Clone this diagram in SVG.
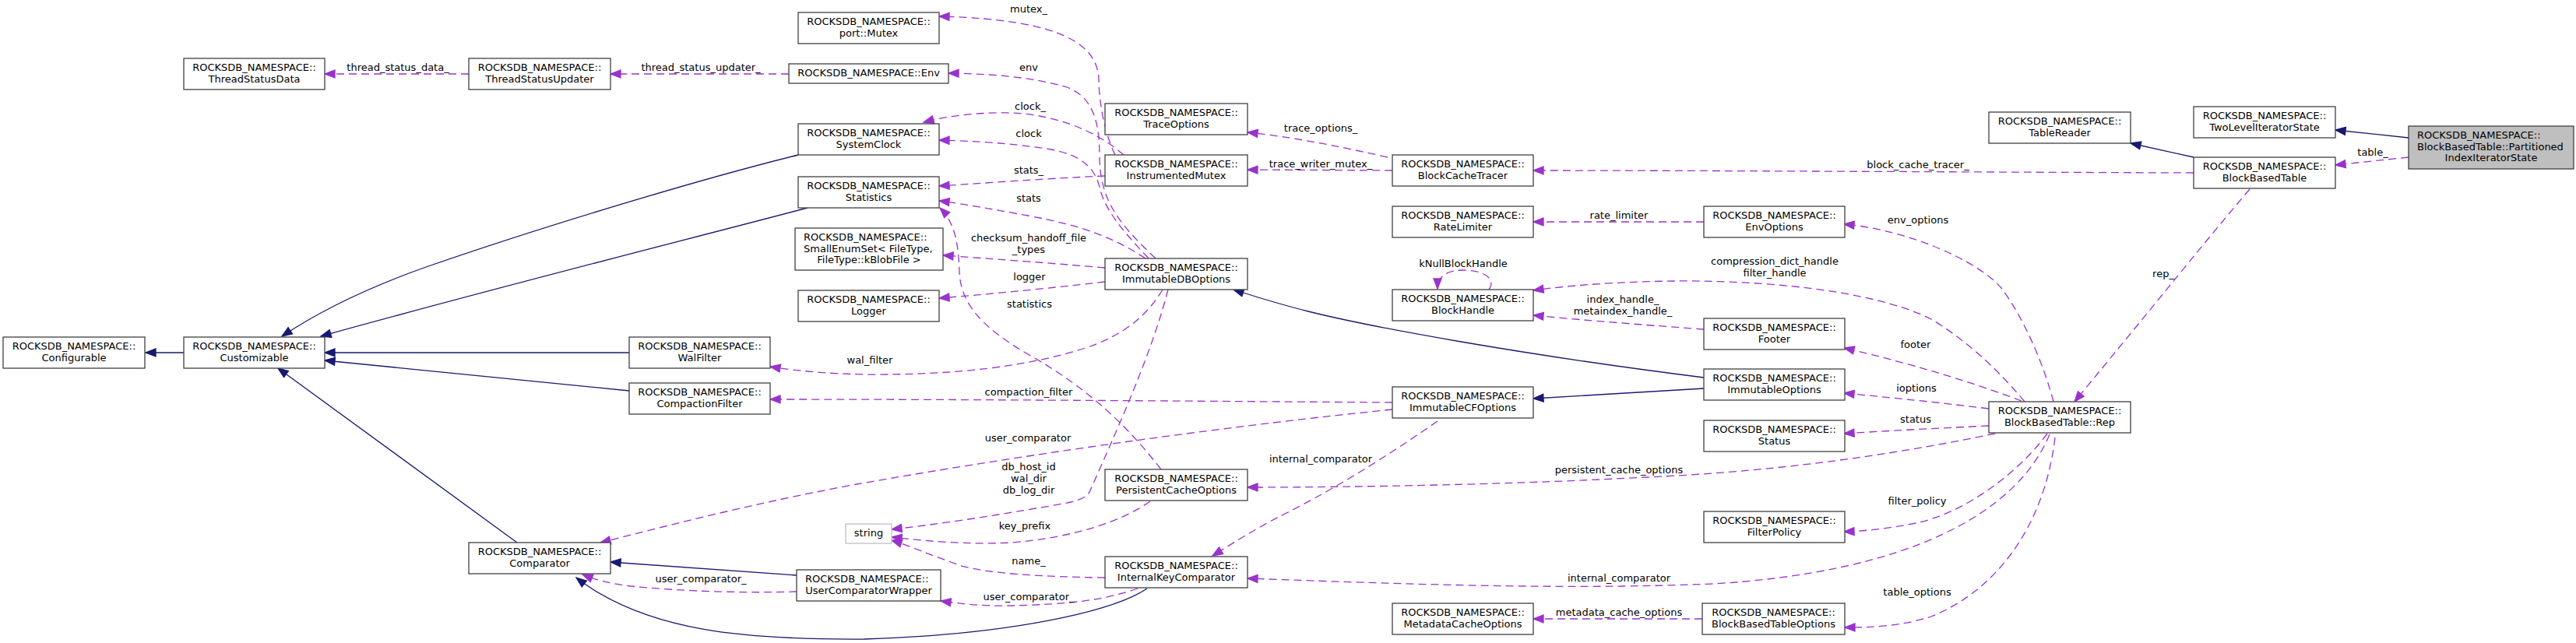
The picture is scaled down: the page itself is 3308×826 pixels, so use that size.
<svg xmlns="http://www.w3.org/2000/svg" width="3308" height="826" viewBox="0 0 3308 826">
<style>
.node rect{fill:#fff;stroke:#404040;stroke-width:1.3}
.node text,.lbl{font-family:"DejaVu Sans","Liberation Sans",sans-serif;font-size:13px;fill:#000;text-anchor:middle}
.node text.l{text-anchor:start}
.inh{fill:none;stroke:#191970;stroke-width:1.3;marker-end:url(#an)}
.use{fill:none;stroke:#9a32cd;stroke-width:1.3;stroke-dasharray:10,6;marker-end:url(#ap)}
</style>
<defs>
<marker id="an" markerUnits="userSpaceOnUse" markerWidth="14" markerHeight="10" refX="13" refY="5" orient="auto" overflow="visible"><path d="M0,0 L13,5 L0,10 z" fill="#191970" stroke="#191970" stroke-width="1.3"/></marker>
<marker id="ap" markerUnits="userSpaceOnUse" markerWidth="14" markerHeight="10" refX="13" refY="5" orient="auto" overflow="visible"><path d="M0,0 L13,5 L0,10 z" fill="#9a32cd" stroke="#9a32cd" stroke-width="1.3"/></marker>
</defs>
<rect width="3308" height="826" fill="#fff"/>
<g id="connectors">
<path class="inh" d="M236,453 L187,453"/>
<path class="inh" d="M1025,199 C900,230 700,290 550,342 C470,370 410,400 362,432"/>
<path class="inh" d="M1037,267 C850,316 620,374 412,432"/>
<path class="inh" d="M808,453 L417,453"/>
<path class="inh" d="M808,502 L417,463"/>
<path class="inh" d="M664,697 L357,473"/>
<path class="inh" d="M1023,739 L784,722"/>
<path class="inh" d="M1473,756 C1430,785 1300,815 1110,821 C960,822 830,812 740,742"/>
<path class="inh" d="M2188,485 C1950,455 1760,420 1680,400 C1640,390 1615,382 1584,372"/>
<path class="inh" d="M2188,499 L1969,512"/>
<path class="inh" d="M2817,202 L2736,184"/>
<path class="inh" d="M3093,177 L2999,167"/>

<path class="use" d="M602,95 L417,95"/>
<path class="use" d="M1013,95 L784,95"/>
<path class="use" d="M1432,199 C1418,170 1411,130 1411,100 C1408,60 1370,25 1206,21"/>
<path class="use" d="M1484,332 C1440,290 1412,260 1412,200 C1412,160 1405,125 1370,112 C1330,100 1280,95 1218,94"/>
<path class="use" d="M1475,332 C1445,300 1418,270 1412,240 C1405,215 1390,200 1350,192 C1300,184 1250,181 1206,180"/>
<path class="use" d="M1471,332 C1430,305 1390,290 1320,277 C1280,270 1240,262 1206,258"/>
<path class="use" d="M1443,199 C1410,170 1360,148 1300,145 C1260,144 1220,148 1186,157"/>
<path class="use" d="M1419,226 C1350,229 1280,234 1206,239"/>
<path class="use" d="M1419,344 C1350,338 1280,333 1211,328"/>
<path class="use" d="M1419,362 C1350,370 1280,377 1206,383"/>
<path class="use" d="M1491,603 C1450,550 1400,500 1320,455 C1260,420 1234,390 1232,350 C1231,310 1225,285 1207,267"/>
<path class="use" d="M1493,372 C1470,410 1440,430 1400,445 C1320,472 1220,482 1110,481 C1060,480 1020,476 989,471"/>
<path class="use" d="M1500,372 C1480,450 1440,540 1400,630 C1395,642 1380,645 1330,653 C1260,665 1200,674 1145,680"/>
<path class="use" d="M1477,644 C1440,670 1380,690 1300,697 C1240,700 1190,695 1145,690"/>
<path class="use" d="M1419,742 C1340,741 1270,737 1235,727 C1200,715 1170,702 1145,694"/>
<path class="use" d="M1461,756 C1420,770 1380,776 1300,778 C1260,779 1230,775 1208,772"/>
<path class="use" d="M1023,760 C960,762 880,760 810,753 C785,750 765,745 748,738"/>
<path class="use" d="M1788,526 C1600,545 1350,578 1100,622 C950,650 840,680 771,697"/>
<path class="use" d="M1788,517 C1500,515 1250,513 989,513"/>
<path class="use" d="M1846,541 C1790,580 1720,625 1650,660 C1610,680 1580,700 1557,714"/>
<path class="use" d="M1782,202 C1720,188 1660,176 1602,170"/>
<path class="use" d="M1788,219 L1602,218"/>
<path class="use" d="M2817,222 C2500,221 2200,219 1969,219"/>
<path class="use" d="M2188,285 L1969,285"/>
<path class="use" d="M1912,372 C1922,358 1905,347 1879,347 C1858,347 1846,355 1846,371"/>
<path class="use" d="M2600,516 C2570,480 2530,440 2480,410 C2400,370 2250,360 2150,361 C2080,362 2020,366 1969,373"/>
<path class="use" d="M2188,423 C2120,418 2040,412 1969,405"/>
<path class="use" d="M2637,516 C2625,470 2600,410 2570,370 C2540,335 2450,295 2368,288"/>
<path class="use" d="M2596,515 C2530,490 2450,466 2368,447"/>
<path class="use" d="M2554,525 C2490,517 2430,511 2368,505"/>
<path class="use" d="M2554,547 C2490,550 2430,553 2368,557"/>
<path class="use" d="M2562,557 C2450,580 2300,605 2114,613 C1950,622 1750,626 1602,626"/>
<path class="use" d="M2629,557 C2590,610 2520,660 2460,672 C2430,678 2400,682 2368,683"/>
<path class="use" d="M2632,558 C2590,660 2450,735 2200,750 C2000,758 1800,750 1602,743"/>
<path class="use" d="M2639,562 C2625,680 2560,760 2480,792 C2440,805 2400,806 2369,806"/>
<path class="use" d="M2186,795 L1969,795"/>
<path class="use" d="M2889,243 C2840,300 2760,400 2664,516"/>
<path class="use" d="M3093,202 L2999,212"/>

<text class="lbl" x="511" y="91">thread_status_data_</text>
<text class="lbl" x="900" y="91">thread_status_updater_</text>
<text class="lbl" x="1321" y="16">mutex_</text>
<text class="lbl" x="1321" y="91">env</text>
<text class="lbl" x="1323" y="141">clock_</text>
<text class="lbl" x="1321" y="176">clock</text>
<text class="lbl" x="1321" y="223">stats_</text>
<text class="lbl" x="1321" y="259">stats</text>
<text class="lbl" x="1321" y="310">checksum_handoff_file</text>
<text class="lbl" x="1321" y="325">_types</text>
<text class="lbl" x="1322" y="360">logger</text>
<text class="lbl" x="1322" y="395">statistics</text>
<text class="lbl" x="1117" y="467">wal_filter</text>
<text class="lbl" x="1321" y="508">compaction_filter</text>
<text class="lbl" x="1320" y="567">user_comparator</text>
<text class="lbl" x="1321" y="604">db_host_id</text>
<text class="lbl" x="1321" y="619">wal_dir</text>
<text class="lbl" x="1321" y="634">db_log_dir</text>
<text class="lbl" x="1316" y="680">key_prefix</text>
<text class="lbl" x="1321" y="725">name_</text>
<text class="lbl" x="1321" y="771">user_comparator_</text>
<text class="lbl" x="900" y="748">user_comparator_</text>
<text class="lbl" x="1696" y="594">internal_comparator</text>
<text class="lbl" x="1696" y="169">trace_options_</text>
<text class="lbl" x="1696" y="215">trace_writer_mutex_</text>
<text class="lbl" x="2463" y="216">block_cache_tracer_</text>
<text class="lbl" x="2079" y="281">rate_limiter</text>
<text class="lbl" x="1879" y="343">kNullBlockHandle</text>
<text class="lbl" x="2279" y="340">compression_dict_handle</text>
<text class="lbl" x="2279" y="355">filter_handle</text>
<text class="lbl" x="2084" y="389">index_handle_</text>
<text class="lbl" x="2084" y="404">metaindex_handle_</text>
<text class="lbl" x="2463" y="287">env_options</text>
<text class="lbl" x="2460" y="447">footer</text>
<text class="lbl" x="2461" y="503">ioptions</text>
<text class="lbl" x="2460" y="543">status</text>
<text class="lbl" x="2079" y="608">persistent_cache_options</text>
<text class="lbl" x="2462" y="648">filter_policy</text>
<text class="lbl" x="2079" y="747">internal_comparator</text>
<text class="lbl" x="2462" y="765">table_options</text>
<text class="lbl" x="2079" y="791">metadata_cache_options</text>
<text class="lbl" x="2778" y="356">rep_</text>
<text class="lbl" x="3047" y="200">table_</text>
</g>

<g id="ThreadStatusData" class="node"><rect x="236" y="75" width="181" height="40"/><text x="326.5" y="91">ROCKSDB_NAMESPACE::</text><text x="326.5" y="105.7">ThreadStatusData</text></g>
<g id="ThreadStatusUpdater" class="node"><rect x="602" y="75" width="182" height="40"/><text x="693" y="91">ROCKSDB_NAMESPACE::</text><text x="693" y="105.7">ThreadStatusUpdater</text></g>
<g id="Configurable" class="node"><rect x="4" y="433" width="182" height="40"/><text x="95" y="449">ROCKSDB_NAMESPACE::</text><text x="95" y="463.7">Configurable</text></g>
<g id="Customizable" class="node"><rect x="236" y="433" width="181" height="40"/><text x="326.5" y="449">ROCKSDB_NAMESPACE::</text><text x="326.5" y="463.7">Customizable</text></g>
<g id="PortMutex" class="node"><rect x="1025" y="16" width="181" height="40"/><text x="1115.5" y="32">ROCKSDB_NAMESPACE::</text><text x="1115.5" y="46.7">port::Mutex</text></g>
<g id="Env" class="node"><rect x="1013" y="82" width="205" height="25"/><text x="1115.5" y="98.3">ROCKSDB_NAMESPACE::Env</text></g>
<g id="SystemClock" class="node"><rect x="1025" y="159" width="181" height="40"/><text x="1115.5" y="175">ROCKSDB_NAMESPACE::</text><text x="1115.5" y="189.7">SystemClock</text></g>
<g id="Statistics" class="node"><rect x="1025" y="227" width="181" height="40"/><text x="1115.5" y="243">ROCKSDB_NAMESPACE::</text><text x="1115.5" y="257.7">Statistics</text></g>
<g id="SmallEnumSet" class="node"><rect x="1021" y="293" width="190" height="54"/><text class="l" x="1032" y="309">ROCKSDB_NAMESPACE::</text><text class="l" x="1032" y="323.7">SmallEnumSet&lt; FileType,</text><text x="1116" y="338.3">FileType::kBlobFile &gt;</text></g>
<g id="Logger" class="node"><rect x="1025" y="373" width="181" height="40"/><text x="1115.5" y="389">ROCKSDB_NAMESPACE::</text><text x="1115.5" y="403.7">Logger</text></g>
<g id="WalFilter" class="node"><rect x="808" y="433" width="181" height="40"/><text x="898.5" y="449">ROCKSDB_NAMESPACE::</text><text x="898.5" y="463.7">WalFilter</text></g>
<g id="CompactionFilter" class="node"><rect x="808" y="492" width="181" height="40"/><text x="898.5" y="508">ROCKSDB_NAMESPACE::</text><text x="898.5" y="522.7">CompactionFilter</text></g>
<g id="Comparator" class="node"><rect x="602" y="697" width="182" height="40"/><text x="693" y="713">ROCKSDB_NAMESPACE::</text><text x="693" y="727.7">Comparator</text></g>
<g id="UserComparatorWrapper" class="node"><rect x="1023" y="732" width="185" height="40"/><text class="l" x="1034" y="748">ROCKSDB_NAMESPACE::</text><text x="1115.5" y="762.7">UserComparatorWrapper</text></g>
<g id="string" class="node"><rect x="1086" y="673" width="59" height="25" style="stroke:#bfbfbf"/><text x="1115.5" y="689.3">string</text></g>
<g id="TraceOptions" class="node"><rect x="1419" y="133" width="183" height="40"/><text x="1510.5" y="149">ROCKSDB_NAMESPACE::</text><text x="1510.5" y="163.7">TraceOptions</text></g>
<g id="InstrumentedMutex" class="node"><rect x="1419" y="199" width="183" height="40"/><text x="1510.5" y="215">ROCKSDB_NAMESPACE::</text><text x="1510.5" y="229.7">InstrumentedMutex</text></g>
<g id="ImmutableDBOptions" class="node"><rect x="1419" y="332" width="183" height="40"/><text x="1510.5" y="348">ROCKSDB_NAMESPACE::</text><text x="1510.5" y="362.7">ImmutableDBOptions</text></g>
<g id="PersistentCacheOptions" class="node"><rect x="1419" y="603" width="183" height="40"/><text x="1510.5" y="619">ROCKSDB_NAMESPACE::</text><text x="1510.5" y="633.7">PersistentCacheOptions</text></g>
<g id="InternalKeyComparator" class="node"><rect x="1419" y="715" width="183" height="40"/><text x="1510.5" y="731">ROCKSDB_NAMESPACE::</text><text x="1510.5" y="745.7">InternalKeyComparator</text></g>
<g id="BlockCacheTracer" class="node"><rect x="1788" y="199" width="181" height="40"/><text x="1878.5" y="215">ROCKSDB_NAMESPACE::</text><text x="1878.5" y="229.7">BlockCacheTracer</text></g>
<g id="RateLimiter" class="node"><rect x="1788" y="265" width="181" height="40"/><text x="1878.5" y="281">ROCKSDB_NAMESPACE::</text><text x="1878.5" y="295.7">RateLimiter</text></g>
<g id="BlockHandle" class="node"><rect x="1788" y="372" width="181" height="40"/><text x="1878.5" y="388">ROCKSDB_NAMESPACE::</text><text x="1878.5" y="402.7">BlockHandle</text></g>
<g id="ImmutableCFOptions" class="node"><rect x="1788" y="497" width="181" height="40"/><text x="1878.5" y="513">ROCKSDB_NAMESPACE::</text><text x="1878.5" y="527.7">ImmutableCFOptions</text></g>
<g id="MetadataCacheOptions" class="node"><rect x="1788" y="775" width="181" height="40"/><text x="1878.5" y="791">ROCKSDB_NAMESPACE::</text><text x="1878.5" y="805.7">MetadataCacheOptions</text></g>
<g id="EnvOptions" class="node"><rect x="2188" y="265" width="181" height="40"/><text x="2278.5" y="281">ROCKSDB_NAMESPACE::</text><text x="2278.5" y="295.7">EnvOptions</text></g>
<g id="Footer" class="node"><rect x="2188" y="409" width="181" height="40"/><text x="2278.5" y="425">ROCKSDB_NAMESPACE::</text><text x="2278.5" y="439.7">Footer</text></g>
<g id="ImmutableOptions" class="node"><rect x="2188" y="474" width="181" height="40"/><text x="2278.5" y="490">ROCKSDB_NAMESPACE::</text><text x="2278.5" y="504.7">ImmutableOptions</text></g>
<g id="Status" class="node"><rect x="2188" y="540" width="181" height="40"/><text x="2278.5" y="556">ROCKSDB_NAMESPACE::</text><text x="2278.5" y="570.7">Status</text></g>
<g id="FilterPolicy" class="node"><rect x="2188" y="657" width="181" height="40"/><text x="2278.5" y="673">ROCKSDB_NAMESPACE::</text><text x="2278.5" y="687.7">FilterPolicy</text></g>
<g id="BlockBasedTableOptions" class="node"><rect x="2186" y="775" width="183" height="40"/><text x="2277.5" y="791">ROCKSDB_NAMESPACE::</text><text x="2277.5" y="805.7">BlockBasedTableOptions</text></g>
<g id="TableReader" class="node"><rect x="2554" y="144" width="182" height="40"/><text x="2645" y="160">ROCKSDB_NAMESPACE::</text><text x="2645" y="174.7">TableReader</text></g>
<g id="BlockBasedTableRep" class="node"><rect x="2554" y="516" width="182" height="40"/><text x="2645" y="532">ROCKSDB_NAMESPACE::</text><text x="2645" y="546.7">BlockBasedTable::Rep</text></g>
<g id="TwoLevelIteratorState" class="node"><rect x="2817" y="137" width="182" height="40"/><text x="2908" y="153">ROCKSDB_NAMESPACE::</text><text x="2908" y="167.7">TwoLevelIteratorState</text></g>
<g id="BlockBasedTable" class="node"><rect x="2817" y="202" width="182" height="40"/><text x="2908" y="218">ROCKSDB_NAMESPACE::</text><text x="2908" y="232.7">BlockBasedTable</text></g>
<g id="PartitionedIndexIteratorState" class="node"><rect x="3093" y="162" width="212" height="55" style="fill:#bfbfbf"/><text class="l" x="3104" y="178">ROCKSDB_NAMESPACE::</text><text class="l" x="3104" y="192.7">BlockBasedTable::Partitioned</text><text x="3199" y="207.3">IndexIteratorState</text></g>
</svg>
